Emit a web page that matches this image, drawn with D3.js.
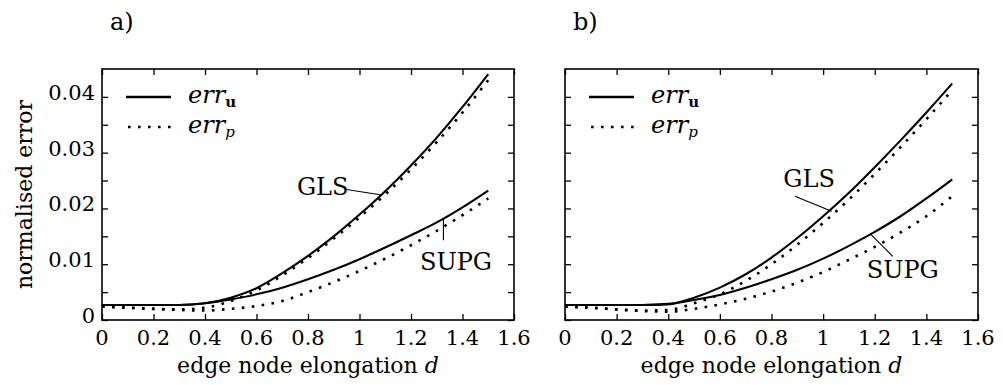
<!DOCTYPE html>
<html>
<head>
<meta charset="utf-8">
<script src="https://cdn.jsdelivr.net/npm/d3@7"></script>
<style>
  html, body { margin: 0; padding: 0; background: #fff; }
  svg { display: block; }
  text { font-family: "DejaVu Serif", serif; fill: #000; }
</style>
</head>
<body>
<svg id="chart" width="1003" height="385"></svg>
<script>
// ---------------- data ----------------
const elongation = [0, 0.1, 0.2, 0.3, 0.4, 0.5, 0.6, 0.7, 0.8, 0.9, 1.0, 1.1, 1.2, 1.3, 1.4, 1.5];

// panel a
const glsU_a  = [0.0027, 0.0027, 0.0027, 0.0027, 0.0030, 0.0040, 0.0057, 0.0084, 0.0115, 0.0150, 0.0189, 0.0231, 0.0277, 0.0327, 0.0382, 0.0441];
const glsP_a  = [0.0024, 0.0022, 0.0020, 0.0019, 0.0022, 0.0034, 0.0053, 0.0080, 0.0111, 0.0146, 0.0184, 0.0225, 0.0270, 0.0319, 0.0372, 0.0430];
const supgU_a = [0.0027, 0.0027, 0.0027, 0.0027, 0.0030, 0.0037, 0.0046, 0.0058, 0.0073, 0.0090, 0.0109, 0.0130, 0.0152, 0.0175, 0.0202, 0.0232];
const supgP_a = [0.0024, 0.0022, 0.0020, 0.0018, 0.0017, 0.0020, 0.0025, 0.0034, 0.0050, 0.0068, 0.0088, 0.0110, 0.0134, 0.0160, 0.0188, 0.0218];

// panel b
const glsU_b  = [0.0027, 0.0027, 0.0027, 0.0027, 0.0028, 0.0040, 0.0058, 0.0082, 0.0112, 0.0147, 0.0186, 0.0228, 0.0274, 0.0322, 0.0372, 0.0424];
const glsP_b  = [0.0024, 0.0022, 0.0019, 0.0017, 0.0018, 0.0030, 0.0046, 0.0070, 0.0100, 0.0135, 0.0174, 0.0216, 0.0262, 0.0310, 0.0360, 0.0412];
const supgU_b = [0.0027, 0.0027, 0.0027, 0.0027, 0.0029, 0.0036, 0.0045, 0.0058, 0.0073, 0.0090, 0.0110, 0.0133, 0.0158, 0.0186, 0.0218, 0.0252];
const supgP_b = [0.0024, 0.0022, 0.0019, 0.0016, 0.0015, 0.0020, 0.0028, 0.0038, 0.0051, 0.0067, 0.0086, 0.0108, 0.0131, 0.0157, 0.0186, 0.0222];

// ticks
const xTicks = [0, 0.2, 0.4, 0.6, 0.8, 1.0, 1.2, 1.4, 1.6];
const xTickLabels = ["0", "0.2", "0.4", "0.6", "0.8", "1", "1.2", "1.4", "1.6"];
const yTicks = [0, 0.005, 0.01, 0.015, 0.02, 0.025, 0.03, 0.035, 0.04];
const yLabelTicks = [0, 0.01, 0.02, 0.03, 0.04];
const yTickLabels = ["0", "0.01", "0.02", "0.03", "0.04"];

const panelNames = ["a)", "b)"];
const xLabel = "edge node elongation ";
const xLabelVar = "d";
const yLabel = "normalised error";

// annotation anchors (data units)
const annotations = [
  { // panel a
    gls:  { text: "GLS",  tx: 0.757, ty: 0.0224, l: [[0.950, 0.0234], [1.086, 0.0224]] },
    supg: { text: "SUPG", tx: 1.235, ty: 0.0090, l: [[1.326, 0.0182], [1.326, 0.0143]] }
  },
  { // panel b
    gls:  { text: "GLS",  tx: 0.846, ty: 0.0238, l: [[0.891, 0.0222], [1.033, 0.0195]] },
    supg: { text: "SUPG", tx: 1.169, ty: 0.0075, l: [[1.182, 0.0155], [1.270, 0.0114]] }
  }
];

const panels = [
  { left: 102, right: 514, series: [glsU_a, supgU_a, glsP_a, supgP_a], yLabels: true },
  { left: 565, right: 978, series: [glsU_b, supgU_b, glsP_b, supgP_b], yLabels: false }
];
const plotTop = 69, plotBottom = 320;
const tickLen = 6;
const fs = 21;

const svg = d3.select("#chart");

panels.forEach((p, pi) => {
  const x = d3.scaleLinear().domain([0, 1.6]).range([p.left, p.right]);
  const y = d3.scaleLinear().domain([0, 0.045]).range([plotBottom, plotTop]);
  const g = svg.append("g");

  // axes (ticks inward on all sides)
  const axB = d3.axisBottom(x).tickValues(xTicks).tickSize(-tickLen).tickFormat("");
  const axT = d3.axisTop(x).tickValues(xTicks).tickSize(-tickLen).tickFormat("");
  const axL = d3.axisLeft(y).tickValues(yTicks).tickSize(-tickLen).tickFormat("");
  const axR = d3.axisRight(y).tickValues(yTicks).tickSize(-tickLen).tickFormat("");
  [[axB, `translate(0,${plotBottom})`], [axT, `translate(0,${plotTop})`],
   [axL, `translate(${p.left},0)`], [axR, `translate(${p.right},0)`]].forEach(([ax, tr]) => {
    const a = g.append("g").attr("transform", tr).call(ax);
    a.select(".domain").remove();
    a.selectAll("line").attr("stroke", "#000").attr("stroke-width", 1.3);
  });
  g.append("rect").attr("x", p.left).attr("y", plotTop)
    .attr("width", p.right - p.left).attr("height", plotBottom - plotTop)
    .attr("fill", "none").attr("stroke", "#000").attr("stroke-width", 1.6);

  // x tick labels
  g.selectAll(".xtl").data(xTicks).enter().append("text")
    .attr("x", d => x(d)).attr("y", 345)
    .attr("text-anchor", "middle").attr("font-size", fs)
    .text((d, i) => xTickLabels[i]);

  // y tick labels
  if (p.yLabels) {
    g.selectAll(".ytl").data(yLabelTicks).enter().append("text")
      .attr("x", p.left - 7).attr("y", d => y(d) + 3)
      .attr("text-anchor", "end").attr("font-size", fs)
      .text((d, i) => yTickLabels[i]);
    g.append("text")
      .attr("transform", `translate(32,${(plotTop + plotBottom) / 2}) rotate(-90)`)
      .attr("text-anchor", "middle").attr("font-size", 22)
      .text(yLabel);
  }

  // x label
  const xl = g.append("text").attr("x", (p.left + p.right) / 2).attr("y", 373)
    .attr("text-anchor", "middle").attr("font-size", 22);
  xl.append("tspan").text(xLabel);
  xl.append("tspan").attr("font-style", "italic").text(xLabelVar);

  // panel name
  g.append("text").attr("x", p.left + 8).attr("y", 30).attr("font-size", 24).text(panelNames[pi]);

  // curves
  const line = d3.line().x((d, i) => x(elongation[i])).y(d => y(d)).curve(d3.curveMonotoneX);
  p.series.forEach((s, si) => {
    const path = g.append("path").datum(s).attr("d", line)
      .attr("fill", "none").attr("stroke", "#000");
    if (si < 2) path.attr("stroke-width", 2.1);
    else path.attr("stroke-width", 2.6).attr("stroke-dasharray", "2.6 7.4");
  });

  // annotations
  const an = annotations[pi];
  [an.gls, an.supg].forEach(a => {
    g.append("line")
      .attr("x1", x(a.l[0][0])).attr("y1", y(a.l[0][1]))
      .attr("x2", x(a.l[1][0])).attr("y2", y(a.l[1][1]))
      .attr("stroke", "#000").attr("stroke-width", 1.1);
    g.append("text").attr("x", x(a.tx)).attr("y", y(a.ty))
      .attr("font-size", 24).text(a.text);
  });

  // legend
  const lg = g.append("g").attr("transform", `translate(${p.left},${plotTop})`);
  lg.append("line").attr("x1", 24).attr("x2", 69).attr("y1", 28).attr("y2", 28)
    .attr("stroke", "#000").attr("stroke-width", 2.6);
  lg.append("line").attr("x1", 26).attr("x2", 70).attr("y1", 58).attr("y2", 58)
    .attr("stroke", "#000").attr("stroke-width", 2.6).attr("stroke-dasharray", "2.6 7.4");
  const t1 = lg.append("text").attr("x", 86).attr("y", 34).attr("font-size", 24);
  t1.append("tspan").attr("font-style", "italic").text("err");
  t1.append("tspan").attr("font-weight", "bold").attr("font-size", 15).attr("dy", 4).text("u");
  const t2 = lg.append("text").attr("x", 86).attr("y", 64).attr("font-size", 24);
  t2.append("tspan").attr("font-style", "italic").text("err");
  t2.append("tspan").attr("font-style", "italic").attr("font-size", 15).attr("dy", 4).text("p");
});
</script>
</body>
</html>
